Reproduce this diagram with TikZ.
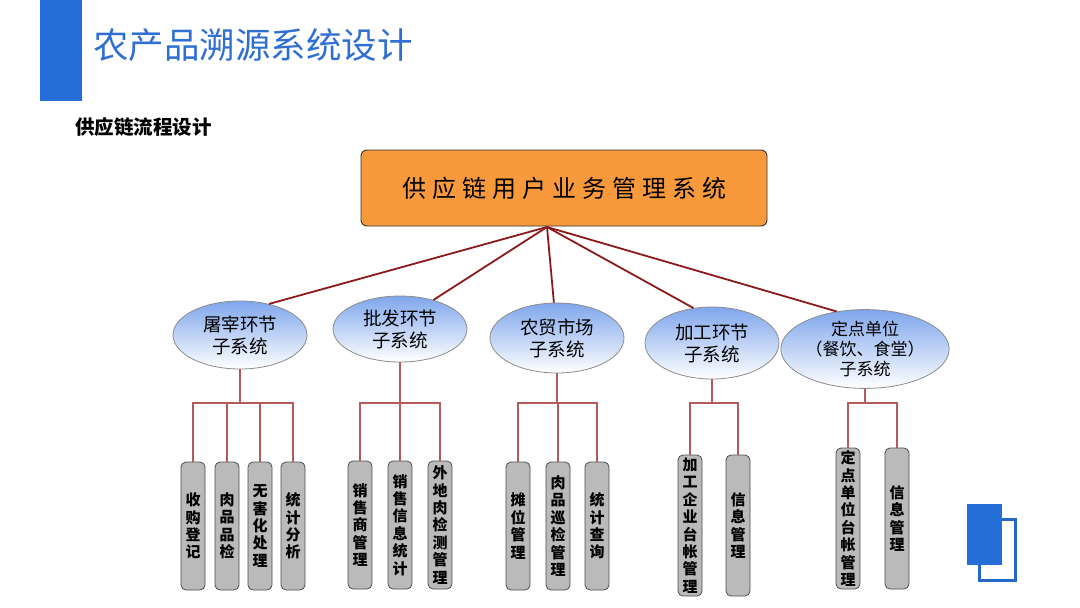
\documentclass[tikz,border=0pt]{standalone}
\usepackage{fontspec}
\setmainfont{Noto Sans CJK SC}
\usetikzlibrary{shapes.geometric}
\definecolor{barblue}{HTML}{2470D8}
\definecolor{titleblue}{HTML}{2F6FD2}
\definecolor{boxorange}{HTML}{F89A3C}
\definecolor{hubred}{HTML}{8B1A1A}
\definecolor{treered}{HTML}{B55A5A}
\definecolor{ellblue}{HTML}{7FA6EC}
\definecolor{iconblue}{HTML}{2468C8}
\begin{document}
\begin{tikzpicture}[x=1pt,y=-1pt,
  mainbox/.style={draw=black!80, fill=boxorange, rounded corners=6pt, line width=0.9pt,
    minimum width=406pt, minimum height=76pt, inner sep=0pt,
    font=\fontsize{24}{28}\selectfont},
  subsys/.style={ellipse, draw=black!45, line width=0.8pt, top color=ellblue, bottom color=white,
    minimum width=134pt, minimum height=68pt, inner sep=0pt, align=center,
    font=\fontsize{18.5}{22}\selectfont},
  leaf/.style={draw=black!70, fill=black!27, rounded corners=5pt, line width=0.8pt,
    minimum width=24pt, inner sep=0pt, align=center,
    font=\fontsize{15}{17.4}\selectfont\bfseries},
  hubline/.style={draw=hubred, line width=1.8pt},
  treeline/.style={draw=treered, line width=1.1pt}
]
\useasboundingbox (0,0) rectangle (1080,608);
% header
\fill[barblue] (40,0) rectangle (82,101);
\node[anchor=west, text=titleblue, font=\fontsize{35.5}{40}\selectfont, inner sep=0pt] (title) at (93,45) {农产品溯源系统设计};
\node[anchor=west, font=\fontsize{19.5}{22}\selectfont\bfseries, inner sep=0pt] (subtitle) at (75,127) {供应链流程设计};

% main box
\node[mainbox] (main) at (564,188) {供\hspace{6pt}应\hspace{6pt}链\hspace{6pt}用\hspace{6pt}户\hspace{6pt}业\hspace{6pt}务\hspace{6pt}管\hspace{6pt}理\hspace{6pt}系\hspace{6pt}统};
\coordinate (hub) at (547,227);

% subsystems
\node[subsys] (e1) at (240,335) {屠宰环节\\子系统};
\node[subsys, minimum height=66pt] (e2) at (400,329) {批发环节\\子系统};
\node[subsys, minimum height=70pt] (e3) at (557,338) {农贸市场\\子系统};
\node[subsys, minimum height=72pt] (e4) at (712,343) {加工环节\\子系统};
\node[subsys, minimum height=74pt, font=\fontsize{17}{20}\selectfont] (e5) at (865,349) {定点单位\\（餐饮、食堂）\\子系统};

\draw[hubline] (hub) -- (e1.47);
\draw[hubline] (hub) -- (e2.41);
\draw[hubline] (hub) -- (e3.95);
\draw[hubline] (hub) -- (e4.118);
\draw[hubline] (hub) -- (e5.127);

% leaves group 1
\node[leaf, minimum height=128pt] (a1) at (193,526) {收\\购\\登\\记};
\node[leaf, minimum height=128pt] (a2) at (227,526) {肉\\品\\品\\检};
\node[leaf, minimum height=128pt] (a3) at (260,526) {无\\害\\化\\处\\理};
\node[leaf, minimum height=128pt] (a4) at (293,526) {统\\计\\分\\析};
% group 2
\node[leaf, minimum height=128pt] (b1) at (360,525) {销\\售\\商\\管\\理};
\node[leaf, minimum height=128pt] (b2) at (400,525) {销\\售\\信\\息\\统\\计};
\node[leaf, minimum height=128pt] (b3) at (440,525) {外\\地\\肉\\检\\测\\管\\理};
% group 3
\node[leaf, minimum height=128pt] (c1) at (518,526) {摊\\位\\管\\理};
\node[leaf, minimum height=128pt] (c2) at (558,526) {肉\\品\\巡\\检\\管\\理};
\node[leaf, minimum height=128pt] (c3) at (597,526) {统\\计\\查\\询};
% group 4
\node[leaf, minimum height=141pt] (d1) at (690,525.5) {加\\工\\企\\业\\台\\帐\\管\\理};
\node[leaf, minimum height=141pt] (d2) at (738,525.5) {信\\息\\管\\理};
% group 5
\node[leaf, minimum height=141pt] (f1) at (848,518.5) {定\\点\\单\\位\\台\\帐\\管\\理};
\node[leaf, minimum height=141pt] (f2) at (897,518.5) {信\\息\\管\\理};

% tree connectors
\coordinate (j1) at (240,403);
\coordinate (j2) at (400,403);
\coordinate (j3) at (557,403);
\coordinate (j4) at (712,403);
\coordinate (j5) at (865,403);
\draw[treeline] (e1.south) -- (e1.south |- j1);
\draw[treeline] (a1.north) -- (a1.north |- j1) -- (a4.north |- j1) -- (a4.north);
\draw[treeline] (a2.north) -- (a2.north |- j1);
\draw[treeline] (a3.north) -- (a3.north |- j1);
\draw[treeline] (e2.south) -- (e2.south |- j2);
\draw[treeline] (b1.north) -- (b1.north |- j2) -- (b3.north |- j2) -- (b3.north);
\draw[treeline] (b2.north) -- (b2.north |- j2);
\draw[treeline] (e3.south) -- (e3.south |- j3);
\draw[treeline] (c1.north) -- (c1.north |- j3) -- (c3.north |- j3) -- (c3.north);
\draw[treeline] (c2.north) -- (c2.north |- j3);
\draw[treeline] (e4.south) -- (e4.south |- j4);
\draw[treeline] (d1.north) -- (d1.north |- j4) -- (d2.north |- j4) -- (d2.north);
\draw[treeline] (e5.south) -- (e5.south |- j5);
\draw[treeline] (f1.north) -- (f1.north |- j5) -- (f2.north |- j5) -- (f2.north);

% corner icon
\draw[iconblue, line width=3pt] (979.5,519.5) rectangle (1015.5,580.5);
\fill[barblue] (967,504) rectangle (1002,565);
\end{tikzpicture}
\end{document}
